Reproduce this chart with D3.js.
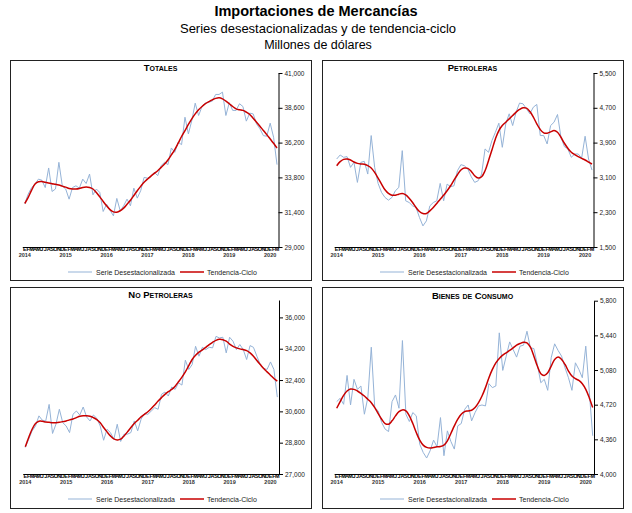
<!DOCTYPE html>
<html>
<head>
<meta charset="utf-8">
<script src="https://cdn.jsdelivr.net/npm/d3@7"></script>
<style>
  body { margin: 0; background: #fff; }
  svg { display: block; font-family: "Liberation Sans", Arial, sans-serif; }
</style>
</head>
<body>
<div id="chart"></div>
<script>
// Categories
const monthLetters = ["E", "F", "M", "A", "M", "J", "J", "A", "S", "O", "N", "D"];
const years = [2014, 2015, 2016, 2017, 2018, 2019, 2020];
const nMonths = 75; // ene 2014 - mar 2020

// Totales
const totalesSerie = [32000, 32650, 33100, 33340, 33680, 33610, 33100, 34450, 32830, 33000, 34840, 33220,
  33000, 32300, 33100, 33220, 33060, 33680, 33380, 34030, 32600, 33000, 32760, 31450,
  31950, 31540, 31150, 32350, 31500, 31840, 32300, 31840, 33060, 32370, 32880, 33800,
  33750, 33850, 34150, 33920, 34610, 34840, 34680, 35830, 35530, 36220, 36060, 37950,
  36800, 37720, 38920, 38070, 38690, 38920, 38990, 39060, 39520, 39520, 39680, 38070,
  38950, 38420, 38420, 38880, 38690, 37680, 38230, 38180, 37490, 37150, 36680, 36640,
  37540, 36570, 34680];
const totalesTendencia = [32000, 32420, 32920, 33340, 33500, 33520, 33460, 33410, 33360, 33320, 33270, 33200,
  33130, 33040, 33000, 33000, 33040, 33110, 33130, 33110, 33000, 32760, 32460, 32140,
  31840, 31580, 31420, 31400, 31500, 31680, 31950, 32230, 32550, 32880, 33180, 33460,
  33680, 33890, 34080, 34260, 34490, 34720, 35000, 35350, 35720, 36160, 36620, 37030,
  37450, 37840, 38180, 38460, 38690, 38880, 39020, 39150, 39250, 39290, 39220, 39060,
  38880, 38690, 38530, 38460, 38420, 38300, 38140, 37880, 37610, 37330, 37030, 36750,
  36450, 36150, 35830];
const totalesTicks = [29000, 31400, 33800, 36200, 38600, 41000];

// Petroleras
const petrolerasSerie = [3523, 3615, 3562, 3577, 3331, 3446, 2985, 3446, 3469, 3177, 4062, 3331,
  2962, 2754, 2638, 2577, 2638, 2792, 2869, 3715, 2562, 2523, 2446, 2408,
  2177, 1985, 2100, 2446, 2523, 2562, 2962, 2562, 2946, 2885, 2908, 3254,
  3392, 3369, 3292, 3115, 2985, 3023, 3177, 3754, 3677, 3946, 4138, 4346,
  3792, 4331, 4562, 4292, 4600, 4808, 4792, 4677, 4562, 4715, 4777, 4062,
  4062, 3869, 4292, 4369, 4546, 4023, 3808, 3754, 3562, 3638, 3638, 3546,
  4046, 3523, 3269];
const petrolerasTendencia = [3369, 3462, 3515, 3523, 3500, 3454, 3423, 3408, 3400, 3369, 3315, 3215,
  3085, 2946, 2815, 2731, 2692, 2692, 2715, 2731, 2700, 2623, 2523, 2408,
  2315, 2269, 2269, 2331, 2408, 2500, 2600, 2692, 2792, 2908, 3038, 3162,
  3269, 3315, 3308, 3238, 3138, 3085, 3115, 3254, 3485, 3731, 3985, 4177,
  4292, 4369, 4446, 4523, 4600, 4662, 4700, 4692, 4615, 4485, 4331, 4200,
  4123, 4115, 4146, 4177, 4138, 4023, 3885, 3769, 3677, 3623, 3577, 3538,
  3500, 3454, 3408];
const petrolerasTicks = [1500, 2300, 3100, 3900, 4700, 5500];

// No petroleras
const noPetrolerasSerie = [28525, 29000, 29480, 29760, 30340, 30090, 30050, 31000, 29330, 29860, 30720, 29950,
  29760, 29380, 30430, 30620, 30390, 30850, 30280, 30050, 30390, 30200, 29760, 28940,
  29570, 29380, 29000, 29860, 28870, 29290, 29290, 29380, 30050, 29480, 30150, 30470,
  30430, 30620, 30810, 30720, 31580, 31710, 31480, 32000, 31860, 32240, 32110, 33540,
  33010, 33290, 34340, 33770, 34280, 34150, 34280, 34250, 34910, 34820, 34860, 33960,
  34860, 34630, 34150, 34440, 34150, 33580, 34380, 34280, 33770, 33290, 33060, 33010,
  33440, 33010, 31420];
const noPetrolerasTendencia = [28560, 29100, 29570, 29900, 30030, 30030, 29990, 29970, 29950, 29950, 29970, 30010,
  30050, 30110, 30160, 30240, 30320, 30350, 30350, 30320, 30240, 30130, 29940, 29670,
  29420, 29190, 29020, 28960, 29000, 29190, 29420, 29670, 29900, 30090, 30280, 30430,
  30580, 30760, 30970, 31190, 31390, 31580, 31730, 31860, 32050, 32300, 32570, 32870,
  33230, 33580, 33820, 34000, 34130, 34280, 34440, 34570, 34680, 34740, 34720, 34630,
  34470, 34340, 34250, 34190, 34150, 34090, 33960, 33770, 33520, 33290, 33060, 32870,
  32680, 32490, 32340];
const noPetrolerasTicks = [27000, 28800, 30600, 32400, 34200, 36000];

// Bienes de consumo
const consumoSerie = [4752, 4786, 4724, 5024, 4717, 4983, 4879, 4914, 4621, 4793, 5317, 4690,
  4655, 4535, 4466, 4441, 4752, 4821, 4683, 5386, 4621, 4545, 4638, 4604,
  4310, 4224, 4166, 4241, 4352, 4283, 4586, 4190, 4448, 4338, 4259, 4500,
  4524, 4672, 4717, 4552, 4638, 4707, 4717, 4707, 4938, 4897, 4914, 5466,
  5076, 5224, 5372, 5293, 5214, 5328, 5338, 5483, 5310, 5303, 5138, 4948,
  4983, 4869, 5207, 5352, 5283, 5224, 5103, 5000, 4869, 5155, 5086, 5000,
  5328, 4862, 4397];
const consumoTendencia = [4683, 4752, 4817, 4862, 4883, 4879, 4862, 4838, 4810, 4776, 4741, 4690,
  4628, 4569, 4524, 4517, 4552, 4604, 4648, 4666, 4655, 4604, 4524, 4431,
  4352, 4300, 4276, 4269, 4276, 4283, 4286, 4300, 4345, 4421, 4500, 4569,
  4621, 4648, 4655, 4662, 4690, 4741, 4810, 4897, 5000, 5086, 5155, 5200,
  5234, 5259, 5283, 5310, 5338, 5355, 5369, 5362, 5317, 5224, 5121, 5041,
  5024, 5052, 5121, 5190, 5214, 5190, 5138, 5069, 5017, 4990, 4972, 4938,
  4879, 4793, 4690];
const consumoTicks = [4000, 4360, 4720, 5080, 5440, 5800];

const serieColor = "#95b3d7";
const tendColor = "#c80000";

const svg = d3.select("#chart").append("svg")
  .attr("width", 632)
  .attr("height", 513);

// Main titles
svg.append("text").attr("x", 316).attr("y", 16).attr("text-anchor", "middle")
  .attr("font-size", 14.5).attr("font-weight", "bold").text("Importaciones de Mercancías");
svg.append("text").attr("x", 318).attr("y", 33).attr("text-anchor", "middle")
  .attr("font-size", 13).text("Series desestacionalizadas y de tendencia-ciclo");
svg.append("text").attr("x", 318).attr("y", 49).attr("text-anchor", "middle")
  .attr("font-size", 12.5).text("Millones de dólares");

// Panel layout
const panels = [
  { title: "Totales", serie: totalesSerie, tend: totalesTendencia, ticks: totalesTicks, max: 41000,
    box: [10, 60, 301, 220], x0: 24.8, x1: 277, axisX: 278.5, top: 73, bottom: 247 },
  { title: "Petroleras", serie: petrolerasSerie, tend: petrolerasTendencia, ticks: petrolerasTicks, max: 5500,
    box: [322, 60, 301, 220], x0: 336.7, x1: 592, axisX: 593.5, top: 73, bottom: 247 },
  { title: "No Petroleras", serie: noPetrolerasSerie, tend: noPetrolerasTendencia, ticks: noPetrolerasTicks, max: 37000,
    box: [10, 287, 301, 221], x0: 25.3, x1: 277.3, axisX: 279, top: 300, bottom: 474 },
  { title: "Bienes de Consumo", serie: consumoSerie, tend: consumoTendencia, ticks: consumoTicks, max: 5800,
    box: [322, 287, 301, 221], x0: 336.7, x1: 592.7, axisX: 594, top: 300.7, bottom: 474 }
];

panels.forEach(p => {
  const [bx, by, bw, bh] = p.box;
  const g = svg.append("g");

  g.append("rect")
    .attr("x", bx + 0.5).attr("y", by + 0.5)
    .attr("width", bw).attr("height", bh)
    .attr("fill", "none").attr("stroke", "#222").attr("stroke-width", 1);

  g.append("text")
    .attr("x", bx + bw / 2).attr("y", p.top - 2)
    .attr("text-anchor", "middle")
    .attr("font-size", 9.5).attr("font-weight", "bold")
    .style("font-variant", "small-caps")
    .text(p.title);

  const x = d3.scaleLinear().domain([0, nMonths - 1]).range([p.x0, p.x1]);
  const y = d3.scaleLinear().domain([p.ticks[0], p.max]).range([p.bottom, p.top]);

  // y axis on the right
  const yAxis = g.append("g")
    .attr("transform", `translate(${p.axisX},0)`)
    .call(d3.axisRight(y).tickValues(p.ticks).tickSize(4).tickSizeOuter(0).tickPadding(2)
      .tickFormat(d3.format(",")));
  yAxis.select(".domain").attr("stroke", "#000");
  yAxis.selectAll(".tick line").attr("stroke", "#000");
  yAxis.selectAll("text").attr("font-size", 6.5).attr("fill", "#222")
    .attr("font-family", "Liberation Sans, Arial, sans-serif");

  // x axis line
  g.append("line")
    .attr("x1", p.x0 - 2).attr("x2", p.axisX)
    .attr("y1", p.bottom + 0.5).attr("y2", p.bottom + 0.5)
    .attr("stroke", "#000");

  // month letters
  g.append("g").selectAll("text")
    .data(d3.range(nMonths))
    .join("text")
    .attr("x", d => x(d))
    .attr("y", p.bottom + 4)
    .attr("text-anchor", "middle")
    .attr("font-size", 5.5)
    .attr("font-weight", "bold")
    .attr("fill", "#000")
    .text(d => monthLetters[d % 12]);

  // year labels
  g.append("g").selectAll("text")
    .data(years)
    .join("text")
    .attr("x", (d, i) => x(i * 12))
    .attr("y", p.bottom + 10)
    .attr("text-anchor", "middle")
    .attr("font-size", 5.5)
    .attr("font-weight", "bold")
    .attr("fill", "#333")
    .text(d => d);

  const line = d3.line().x((d, i) => x(i)).y(d => y(d));
  const smooth = d3.line().x((d, i) => x(i)).y(d => y(d)).curve(d3.curveCatmullRom);

  g.append("path").datum(p.serie)
    .attr("d", line)
    .attr("fill", "none").attr("stroke", serieColor).attr("stroke-width", 1);

  g.append("path").datum(p.tend)
    .attr("d", smooth)
    .attr("fill", "none").attr("stroke", tendColor).attr("stroke-width", 1.5);

  // legend
  const ly = p.bottom + 25;
  const leg = g.append("g").attr("font-size", 7).attr("fill", "#222");
  leg.append("line").attr("x1", bx + 58).attr("x2", bx + 82).attr("y1", ly).attr("y2", ly)
    .attr("stroke", serieColor).attr("stroke-width", 1);
  leg.append("text").attr("x", bx + 86).attr("y", ly + 2.5).text("Serie Desestacionalizada");
  leg.append("line").attr("x1", bx + 170).attr("x2", bx + 194).attr("y1", ly).attr("y2", ly)
    .attr("stroke", tendColor).attr("stroke-width", 1.5);
  leg.append("text").attr("x", bx + 197).attr("y", ly + 2.5).text("Tendencia-Ciclo");
});
</script>
</body>
</html>
